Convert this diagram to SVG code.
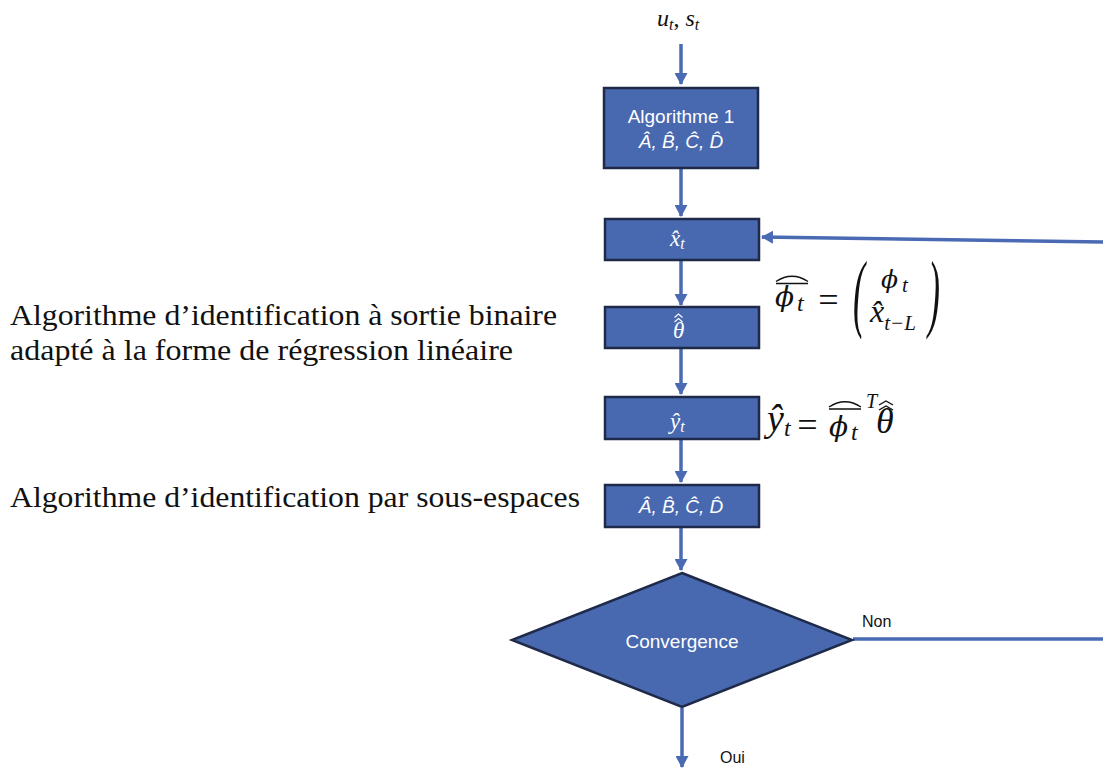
<svg xmlns="http://www.w3.org/2000/svg" width="1103" height="769" viewBox="0 0 1103 769">
<style>
.box{fill:#4868B0;stroke:#1E2A48;stroke-width:2.5}
.wt{fill:#ffffff;font-family:"Liberation Sans",Arial,sans-serif;font-size:19px;text-anchor:middle}
.wm{fill:#ffffff;font-family:"Liberation Serif","DejaVu Serif",serif;font-style:italic;font-size:23px}
.conn{stroke:#4A6AB4;stroke-width:3.5;fill:none}
.lbl{font-family:"Liberation Serif","DejaVu Serif",serif;font-size:29px;fill:#111}
.m{font-family:"Liberation Serif","DejaVu Serif",serif;font-style:italic;fill:#111}
.g{font-family:"DejaVu Serif",serif;font-style:italic;fill:#111}
.s{font-family:"Liberation Sans",Arial,sans-serif;font-size:16px;fill:#111}
.acc{fill:none;stroke:#111;stroke-width:1.4}
</style>
<defs>
<marker id="ah" viewBox="0 0 12 13" refX="11" refY="6.5" markerWidth="12" markerHeight="13" markerUnits="userSpaceOnUse" orient="auto">
<path d="M0,0 L12,6.5 L0,13 z" fill="#4A6AB4"/>
</marker>
</defs>

<g id="connectors">
<path class="conn" d="M681,44 V84" marker-end="url(#ah)"/>
<path class="conn" d="M681,168 V216" marker-end="url(#ah)"/>
<path class="conn" d="M681,261 V305" marker-end="url(#ah)"/>
<path class="conn" d="M681,348 V394" marker-end="url(#ah)"/>
<path class="conn" d="M681,440 V482" marker-end="url(#ah)"/>
<path class="conn" d="M681,528 V570" marker-end="url(#ah)"/>
<path class="conn" d="M682,708 V767" marker-end="url(#ah)"/>
<path class="conn" d="M853,639 H1103" stroke-width="3"/>
<path class="conn" d="M1103,242 L762,237" stroke-width="3" marker-end="url(#ah)"/>
</g>

<g id="input">
<text class="m" font-size="24" x="657" y="26">u<tspan font-size="16" dy="4">t</tspan><tspan font-style="normal" dy="-4">, </tspan>s<tspan font-size="16" dy="4">t</tspan></text>
</g>

<g id="algo1">
<rect class="box" x="604" y="88" width="154" height="80"/>
<text class="wt" x="681" y="123">Algorithme 1</text>
<text class="wt" x="681" y="148" font-style="italic">Â, B̂, Ĉ, D̂</text>
</g>

<g id="xhat">
<rect class="box" x="605" y="219" width="154" height="41"/>
<text class="wm" x="670" y="246">x̂<tspan font-size="16" dy="3">t</tspan></text>
</g>

<g id="theta">
<rect class="box" x="605" y="307" width="154" height="41"/>
<text class="wm" x="673" y="338">θ</text>
<path d="M674.5,322 L678.5,318.5 L682.5,322 M674.5,317.5 L678.5,314 L682.5,317.5" fill="none" stroke="#fff" stroke-width="1.1"/>
</g>

<g id="yhat">
<rect class="box" x="605" y="397" width="154" height="42"/>
<text class="wm" x="670" y="429">ŷ<tspan font-size="16" dy="3">t</tspan></text>
</g>

<g id="abcd">
<rect class="box" x="605" y="485" width="154" height="42"/>
<text class="wt" x="681" y="513" font-style="italic">Â, B̂, Ĉ, D̂</text>
</g>

<g id="convergence">
<polygon class="box" points="682,573 852,640 682,707 512,640"/>
<text class="wt" x="682" y="648" font-size="20">Convergence</text>
</g>

<g id="labels">
<text class="lbl" x="10" y="325" textLength="547" lengthAdjust="spacingAndGlyphs">Algorithme d’identification à sortie binaire</text>
<text class="lbl" x="10" y="360" textLength="503" lengthAdjust="spacingAndGlyphs">adapté à la forme de régression linéaire</text>
<text class="lbl" x="10" y="507" textLength="570" lengthAdjust="spacingAndGlyphs">Algorithme d’identification par sous-espaces</text>
<text class="s" x="862" y="627">Non</text>
<text class="s" x="720" y="763">Oui</text>
</g>

<g id="eq-phi">
<text class="g" font-size="28" x="775" y="306">ϕ</text>
<text class="m" font-size="24" x="797" y="311">t</text>
<path class="acc" d="M776,283.5 H808 M776,281.5 Q792,271 808,281.5"/>
<text class="m" font-style="normal" font-size="36" x="816" y="312">=</text>
<text class="m" font-style="normal" font-size="36" transform="translate(853,321) scale(1,2.4)">(</text>
<text class="m" font-style="normal" font-size="36" transform="translate(928,321) scale(1,2.4)">)</text>
<text class="g" font-size="25" x="881" y="288">ϕ</text>
<text class="m" font-size="21" x="902" y="292">t</text>
<text class="m" font-size="32" x="870" y="322">x̂<tspan font-size="21" dy="8">t−L</tspan></text>
</g>

<g id="eq-y">
<text class="m" font-size="38" x="767" y="431">ŷ<tspan font-size="24" dy="5">t</tspan></text>
<text class="m" font-style="normal" font-size="36" x="795" y="437">=</text>
<text class="g" font-size="28" x="829" y="436">ϕ</text>
<text class="m" font-size="24" x="851" y="440">t</text>
<path class="acc" d="M829,409 H861 M829,407 Q845,396.5 861,407"/>
<text class="m" font-size="20" x="866" y="408">T</text>
<text class="m" font-size="36" x="876" y="433">θ</text>
<path class="acc" d="M879,410 L886,406 L893,410 M879,405 L886,401 L893,405"/>
</g>
</svg>
